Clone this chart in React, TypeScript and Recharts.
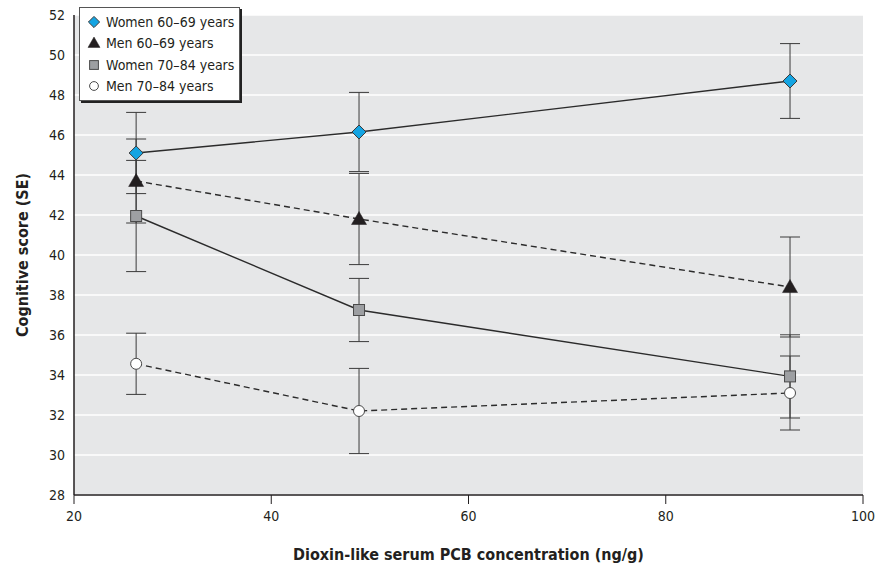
import React from "react";
import { ComposedChart, Line, XAxis, YAxis, CartesianGrid, ErrorBar, Legend } from "recharts";

const xValues = [26.3, 48.9, 92.6];

const women6069 = [45.1, 46.15, 48.7];
const women6069Err = [2.03, 1.98, 1.87];
const men6069 = [43.7, 41.8, 38.4];
const men6069Err = [2.1, 2.28, 2.5];
const women7084 = [41.95, 37.25, 33.93];
const women7084Err = [2.78, 1.58, 2.08];
const men7084 = [34.56, 32.2, 33.1];
const men7084Err = [1.53, 2.13, 1.85];

const xTicks = [20, 40, 60, 80, 100];
const yTicks = [28, 30, 32, 34, 36, 38, 40, 42, 44, 46, 48, 50, 52];

const toRows = (vals: number[], errs: number[]) =>
  xValues.map((x, i) => ({ x, y: vals[i], err: errs[i] }));

const FONT = "'Liberation Sans Narrow', 'DejaVu Sans Condensed', Arial, sans-serif";

type Shape = "diamond" | "triangle" | "square" | "circle";

function Marker({ shape, cx, cy, k = 1 }: { shape: Shape; cx: number; cy: number; k?: number }) {
  if (shape === "diamond") {
    const r = 7 * k;
    return (
      <path
        d={`M${cx},${cy - r}L${cx + r},${cy}L${cx},${cy + r}L${cx - r},${cy}Z`}
        fill="#14a4e2"
        stroke="#3a3a3a"
        strokeWidth={1}
      />
    );
  }
  if (shape === "triangle") {
    return (
      <path
        d={`M${cx},${cy - 7.5 * k}L${cx + 7.5 * k},${cy + 5.5 * k}L${cx - 7.5 * k},${cy + 5.5 * k}Z`}
        fill="#231f20"
        stroke="#231f20"
        strokeWidth={0.5}
      />
    );
  }
  if (shape === "square") {
    const h = 5.5 * k;
    return <rect x={cx - h} y={cy - h} width={2 * h} height={2 * h} fill="#9d9fa2" stroke="#4a4a4a" strokeWidth={1} />;
  }
  return <circle cx={cx} cy={cy} r={5.5 * k} fill="#ffffff" stroke="#4a4a4a" strokeWidth={1} />;
}

const dotFor = (shape: Shape) => (props: any) =>
  <Marker key={`${shape}-${props.index}`} shape={shape} cx={props.cx} cy={props.cy} />;

const series = [
  { name: "Women 60–69 years", shape: "diamond" as Shape, data: toRows(women6069, women6069Err), dash: undefined },
  { name: "Men 60–69 years", shape: "triangle" as Shape, data: toRows(men6069, men6069Err), dash: "6 4" },
  { name: "Women 70–84 years", shape: "square" as Shape, data: toRows(women7084, women7084Err), dash: undefined },
  { name: "Men 70–84 years", shape: "circle" as Shape, data: toRows(men7084, men7084Err), dash: "6 4" },
];

function LegendBox() {
  return (
    <div
      style={{
        background: "#fff",
        border: "1px solid #555",
        boxShadow: "2px 2px 0 #222",
        padding: "3px 5px 3px 6px",
        fontFamily: FONT,
        fontSize: 14,
        color: "#231f20",
      }}
    >
      {series.map((s) => (
        <div key={s.name} style={{ display: "flex", alignItems: "center", height: 21.5 }}>
          <svg width={16} height={16} style={{ marginRight: 4 }}>
            <Marker shape={s.shape} cx={8} cy={8} k={0.8} />
          </svg>
          <span>{s.name}</span>
        </div>
      ))}
    </div>
  );
}

export default function App() {
  return (
    <div style={{ width: 875, height: 565, background: "#fff" }}>
      <style>{`body{margin:0}`}</style>
      <ComposedChart width={875} height={565} margin={{ top: 15, right: 12, bottom: 0, left: 0 }}>
        <CartesianGrid vertical={false} stroke="#ffffff" strokeWidth={1.5} fill="#e6e7e8" />
        <XAxis
          type="number"
          dataKey="x"
          domain={[20, 100]}
          ticks={xTicks}
          height={70}
          allowDuplicatedCategory={false}
          axisLine={{ stroke: "#231f20", strokeWidth: 1.5 }}
          tickLine={{ stroke: "#231f20", strokeWidth: 1 }}
          tickSize={9}
          tickMargin={7}
          tick={{ fontFamily: FONT, fontSize: 14, fill: "#231f20" }}
          label={{
            value: "Dioxin-like serum PCB concentration (ng/g)",
            position: "insideBottom",
            offset: 5,
            style: { fontFamily: FONT, fontSize: 16, fontWeight: "bold", fill: "#231f20" },
          }}
        />
        <YAxis
          type="number"
          domain={[28, 52]}
          ticks={yTicks}
          width={74}
          axisLine={{ stroke: "#231f20", strokeWidth: 1.5 }}
          tickLine={false}
          tickSize={0}
          tickMargin={9}
          tick={{ fontFamily: FONT, fontSize: 14, fill: "#231f20" }}
          label={(props: any) => {
            const vb = props.viewBox;
            const cx = 22;
            const cy = vb.y + vb.height / 2;
            return (
              <text
                x={cx}
                y={cy}
                transform={`rotate(-90 ${cx} ${cy})`}
                textAnchor="middle"
                dominantBaseline="central"
                style={{ fontFamily: FONT, fontSize: 16, fontWeight: "bold", fill: "#231f20" }}
              >
                Cognitive score (SE)
              </text>
            );
          }}
        />
        <Legend
          layout="vertical"
          align="center"
          verticalAlign="middle"
          wrapperStyle={{ left: 79, top: 7, width: "auto", height: "auto" }}
          content={() => <LegendBox />}
        />
        {series.map((s) => (
          <Line
            key={s.name}
            data={s.data}
            dataKey="y"
            name={s.name}
            stroke="#2b2b2b"
            strokeWidth={1.4}
            strokeDasharray={s.dash}
            dot={dotFor(s.shape)}
            activeDot={false}
            isAnimationActive={false}
          >
            <ErrorBar dataKey="err" direction="y" width={10} stroke="#3a3a3a" strokeWidth={1} isAnimationActive={false} />
          </Line>
        ))}
      </ComposedChart>
    </div>
  );
}
